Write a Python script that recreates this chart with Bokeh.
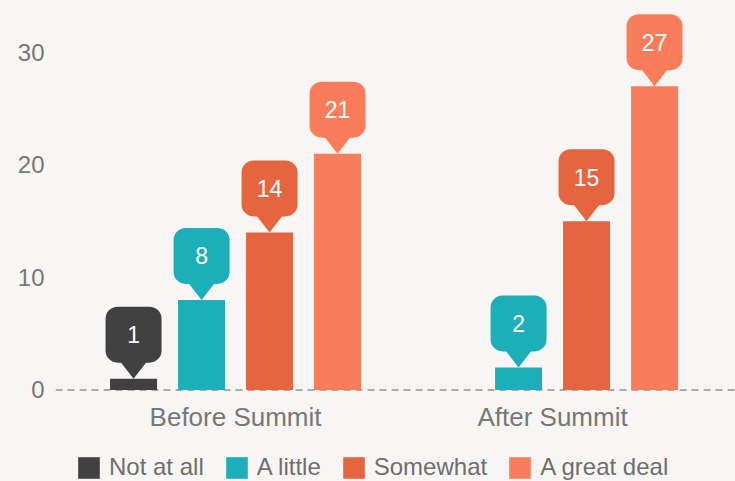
from bokeh.plotting import figure
from bokeh.layouts import column
from bokeh.models import Range1d, FixedTicker, Span, Legend, LegendItem
from bokeh.core.properties import value
from bokeh.embed import file_html
from bokeh.resources import INLINE

# ---- data ----
groups = ["Before Summit", "After Summit"]
levels = ["Not at all", "A little", "Somewhat", "A great deal"]
not_at_all = [1, 0]
a_little = [8, 2]
somewhat = [14, 15]
great_deal = [21, 27]
series = [not_at_all, a_little, somewhat, great_deal]
y_ticks = [0, 10, 20, 30]

# ---- style ----
colors = ["#404040", "#1cafba", "#e4653f", "#fa7d5b"]
BG = "#f8f6f4"
FONT = "Liberation Sans"
W = 735
H_TOP, H_LEG = 440, 41
LEFT, BOTTOM = 55, 45
FRAME_W, FRAME_H = W - LEFT, H_TOP - BOTTOM
X_START = -0.068
X_END = X_START + FRAME_W / 317
Y_START = -0.5
Y_END = Y_START + FRAME_H / 11.25
PX_X = FRAME_W / (X_END - X_START)
PX_Y = FRAME_H / (Y_END - Y_START)
STEP = 0.2145          # distance between bars within a group (data units)
BAR_W = 47 / PX_X
BUB_W, BUB_H, TIP_H, TIP_W = 56, 56, 16, 28
NAN = float("nan")

p = figure(width=W, height=H_TOP,
           x_range=Range1d(X_START, X_END), y_range=Range1d(Y_START, Y_END),
           output_backend="svg", toolbar_location=None,
           min_border_left=LEFT, min_border_right=0, min_border_top=0, min_border_bottom=BOTTOM,
           background_fill_color=BG, border_fill_color=BG, outline_line_color=None)

p.xgrid.visible = False
p.ygrid.visible = False

zero = Span(location=0, dimension="width", line_color="#aaaaaa", line_width=2,
            line_dash="7 5", level="underlay")
p.add_layout(zero)

# legend lives in a thin strip below the chart
leg = figure(width=W, height=H_LEG, x_range=Range1d(0, 1), y_range=Range1d(0, 1),
             x_axis_location=None, y_axis_location=None,
             output_backend="svg", toolbar_location=None,
             min_border_left=LEFT, min_border_right=0, min_border_top=0, min_border_bottom=0,
             background_fill_color=BG, background_fill_alpha=0,
             border_fill_color=BG, outline_line_color=None)
leg.xgrid.visible = False
leg.ygrid.visible = False

items = []
for k, (name, vals) in enumerate(zip(levels, series)):
    xs = [gi + 0.5 + (k - 1.5) * STEP for gi in range(len(groups))]
    p.vbar(x=xs, top=vals, bottom=0, width=BAR_W, fill_color=colors[k], line_color=None)
    # swatch-only renderer (no visible data) for the legend strip
    lr = leg.vbar(x=[NAN], top=[NAN], bottom=[NAN], width=0.1,
                  fill_color=colors[k], line_color=None)
    items.append(LegendItem(label=name, renderers=[lr]))

    bx, bb, bt, bv = [], [], [], []
    for x, v in zip(xs, vals):
        if v <= 0:
            continue
        bottom = v + TIP_H / PX_Y
        bx.append(x); bb.append(bottom); bt.append(bottom + BUB_H / PX_Y); bv.append(v)
    if not bx:
        continue
    p.vbar(x=bx, bottom=bb, top=bt, width=BUB_W / PX_X, fill_color=colors[k],
           line_color=None, border_radius=12)
    hw = TIP_W / 2 / PX_X
    p.patches(xs=[[x - hw, x + hw, x] for x in bx],
              ys=[[b + 2 / PX_Y, b + 2 / PX_Y, v] for b, v in zip(bb, bv)],
              fill_color=colors[k], line_color=None)
    p.text(x=bx, y=[(b + t) / 2 for b, t in zip(bb, bt)], text=[str(v) for v in bv],
           text_align="center", text_baseline="middle", text_color="white",
           text_font=value(FONT), text_font_size="23px")

# axes
p.yaxis.ticker = FixedTicker(ticks=y_ticks)
p.yaxis.axis_line_color = None
p.yaxis.major_tick_line_color = None
p.yaxis.minor_tick_line_color = None
p.yaxis.major_tick_out = 0
p.yaxis.major_label_standoff = 11
p.yaxis.major_label_text_font = FONT
p.yaxis.major_label_text_font_size = "24px"
p.yaxis.major_label_text_color = "#777777"

p.xaxis.ticker = FixedTicker(ticks=[i + 0.5 for i in range(len(groups))])
p.xaxis.major_label_overrides = {i + 0.5: g for i, g in enumerate(groups)}
p.xaxis.axis_line_color = None
p.xaxis.major_tick_line_color = None
p.xaxis.minor_tick_line_color = None
p.xaxis.major_tick_out = 0
p.xaxis.major_label_standoff = 6
p.xaxis.major_label_text_font = FONT
p.xaxis.major_label_text_font_size = "26px"
p.xaxis.major_label_text_color = "#777777"

legend = Legend(items=items, orientation="horizontal", location=(20, 0),
                background_fill_color=BG, background_fill_alpha=0, border_line_color=None,
                label_text_font=FONT, label_text_font_size="24px", label_text_color="#6e6e6e",
                glyph_width=27, glyph_height=27, spacing=19, label_standoff=7,
                padding=0, margin=0)
leg.add_layout(legend)

layout = column(p, leg, spacing=0, styles={"background-color": BG})
open("out.html", "w").write(file_html(layout, INLINE))
